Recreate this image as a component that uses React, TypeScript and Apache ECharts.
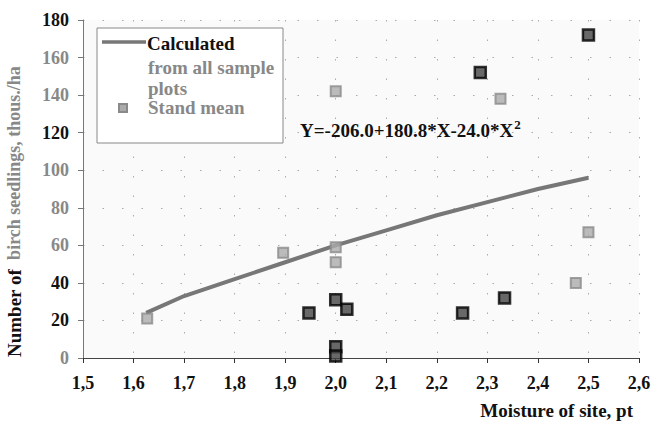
import React, { useEffect, useRef } from "react";
import * as echarts from "echarts";

const xTicks = { min: 1.5, max: 2.6, step: 0.1 };
const yTicks = { min: 0, max: 180, step: 20 };

// Calculated curve (X, Y)
const calculated: [number, number][] = [
  [1.625, 24], [1.7, 33], [1.8, 42], [1.9, 51], [2.0, 60], [2.1, 68],
  [2.2, 76], [2.3, 83], [2.4, 90], [2.5, 96],
];

// Stand means (gray squares)
const standMean: [number, number][] = [
  [1.627, 21], [1.896, 56], [2.0, 59], [2.0, 51], [2.0, 142],
  [2.326, 138], [2.475, 40], [2.5, 67],
];

// Black squares (sample plots)
const samplePlots: [number, number][] = [
  [1.947, 24], [2.0, 31], [2.022, 26], [2.0, 6], [2.0, 1],
  [2.251, 24], [2.334, 32], [2.286, 152], [2.5, 172],
];

const blackYLabels = [180, 120, 40, 20];

const FONT = "Liberation Serif";

export default function App() {
  const ref = useRef<HTMLDivElement>(null);
  useEffect(() => {
    document.body.style.margin = "0";
    const chart = echarts.init(ref.current!, undefined, { renderer: "svg" });
    chart.setOption({
      animation: false,
      backgroundColor: "#ffffff",
      textStyle: { fontFamily: FONT },
      grid: {
        left: 83, right: 15, top: 20, bottom: 70,
        show: true, backgroundColor: "#fafafa", borderWidth: 0,
      },
      xAxis: {
        type: "value",
        min: xTicks.min, max: xTicks.max, interval: xTicks.step,
        axisLine: { show: true, lineStyle: { color: "#444", width: 1 } },
        axisTick: { show: true, length: 5, lineStyle: { color: "#333" } },
        axisLabel: {
          margin: 16,
          fontFamily: FONT, fontWeight: "bold", fontSize: 18, color: "#111",
          formatter: (v: number) => v.toFixed(1).replace(".", ","),
        },
        splitLine: { show: true, lineStyle: { color: "#aaa", type: [1.5, 18], width: 1 } },
      },
      yAxis: {
        type: "value",
        min: yTicks.min, max: yTicks.max, interval: yTicks.step,
        axisLine: { show: true, lineStyle: { color: "#777", width: 1 } },
        axisTick: { show: true, length: 5, lineStyle: { color: "#777" } },
        axisLabel: {
          margin: 14,
          fontFamily: FONT, fontWeight: "bold", fontSize: 18,
          color: (v: any) => (blackYLabels.includes(Number(v)) ? "#111" : "#888"),
        },
        splitLine: { show: true, lineStyle: { color: "#aaa", type: [1.5, 18], width: 1 } },
      },
      series: [
        {
          name: "Calculated",
          type: "line",
          data: calculated,
          showSymbol: false,
          symbol: "none",
          lineStyle: { color: "#777", width: 4 },
          z: 2,
        },
        {
          name: "Stand mean",
          type: "scatter",
          data: standMean,
          symbol: "rect",
          symbolSize: 10,
          itemStyle: { color: "#ababab", borderColor: "#8a8a8a", borderWidth: 2 },
          z: 3,
        },
        {
          name: "Sample plots",
          type: "scatter",
          data: samplePlots,
          symbol: "rect",
          symbolSize: 11,
          itemStyle: { color: "#444", borderColor: "#000", borderWidth: 2.5 },
          z: 4,
        },
      ],
      graphic: [
        {
          type: "rect",
          shape: { x: 97, y: 28, width: 186, height: 115 },
          style: { fill: "#ffffff", stroke: "#888", lineWidth: 1 },
          z: 10,
        },
        {
          type: "line",
          shape: { x1: 102, y1: 42, x2: 146, y2: 42 },
          style: { stroke: "#777", lineWidth: 3.5 },
          z: 11,
        },
        {
          type: "text", x: 147, y: 43, z: 11,
          style: { text: "Calculated", font: `bold 19px ${FONT}`, fill: "#111", verticalAlign: "middle" },
        },
        {
          type: "text", x: 148, y: 67, z: 11,
          style: { text: "from all sample", font: `bold 19px ${FONT}`, fill: "#888", verticalAlign: "middle" },
        },
        {
          type: "text", x: 148, y: 88, z: 11,
          style: { text: "plots", font: `bold 19px ${FONT}`, fill: "#888", verticalAlign: "middle" },
        },
        {
          type: "rect", z: 11,
          shape: { x: 119, y: 104, width: 8, height: 8 },
          style: { fill: "#ababab", stroke: "#8a8a8a", lineWidth: 2 },
        },
        {
          type: "text", x: 148, y: 107, z: 11,
          style: { text: "Stand mean", font: `bold 19px ${FONT}`, fill: "#888", verticalAlign: "middle" },
        },
        {
          type: "text", x: 300, y: 130, z: 11,
          style: {
            text: "{a|Y=-206.0+180.8*X-24.0*X}{s|2}",
            verticalAlign: "middle",
            rich: {
              a: { font: `bold 19px ${FONT}`, fill: "#111" },
              s: { font: `bold 13px ${FONT}`, fill: "#111", padding: [0, 0, 12, 1] },
            },
          },
        },
        {
          type: "text", x: 633, y: 410, z: 11,
          style: { text: "Moisture of site, pt", font: `bold 19px ${FONT}`, fill: "#111", align: "right", verticalAlign: "middle" },
        },
        {
          type: "text", x: 14, y: 357, rotation: Math.PI / 2, z: 11,
          style: {
            text: "{a|Number of}{b|  birch seedlings, thous./ha}",
            verticalAlign: "middle",
            align: "left",
            rich: {
              a: { font: `bold 19px ${FONT}`, fill: "#111" },
              b: { font: `bold 18px ${FONT}`, fill: "#888" },
            },
          },
        },
      ],
    });
    return () => chart.dispose();
  }, []);
  return (
    <div
      ref={ref}
      style={{ position: "fixed", left: 0, top: 0, width: 654, height: 428 }}
    />
  );
}
